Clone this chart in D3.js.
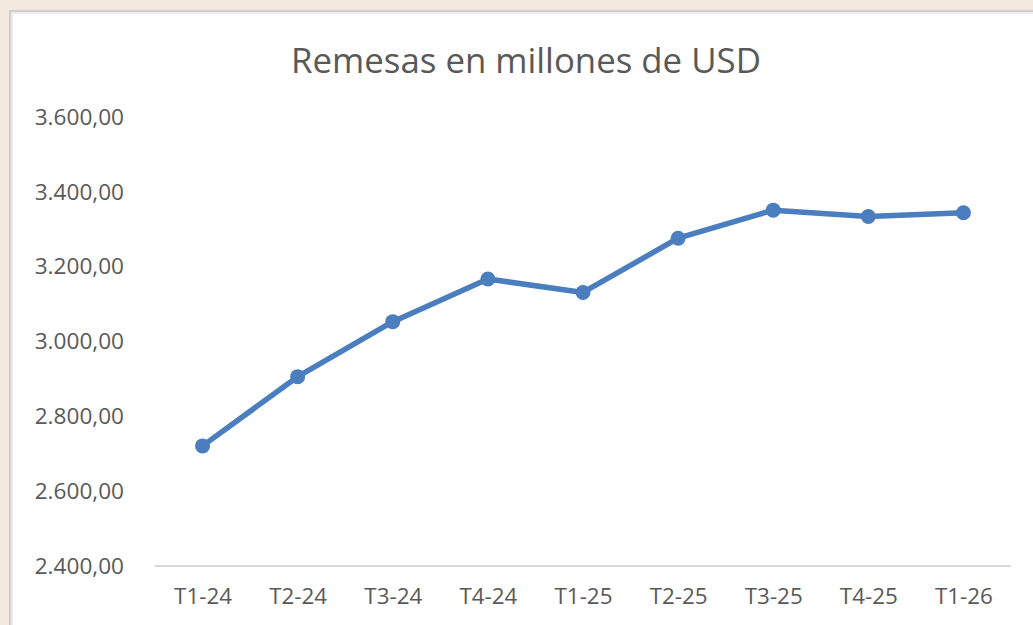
<!DOCTYPE html>
<html lang="es">
<head>
    <meta charset="UTF-8">
    <title>Remesas en millones de USD</title>
    <script src="https://d3js.org/d3.v7.min.js"></script>
    <style>
        html, body { margin: 0; padding: 0; background: #f4e9df; }
        #chart { width: 1033px; height: 625px; }
        text { font-family: "Open Sans", sans-serif; fill: #595959; }
    </style>
</head>
<body>
    <div id="chart"></div>
    <script>
        // datos
        const quarters = ["T1-24", "T2-24", "T3-24", "T4-24", "T1-25", "T2-25", "T3-25", "T4-25", "T1-26"];
        const remesas = [2721, 2906, 3053, 3167, 3131, 3276, 3351, 3334, 3344];
        const yTicks = [2400, 2600, 2800, 3000, 3200, 3400, 3600];

        const width = 1033, height = 625;

        const svg = d3.select("#chart")
            .append("svg")
            .attr("width", width)
            .attr("height", height);

        // panel blanco con borde gris
        svg.append("rect")
            .attr("x", 10).attr("y", 11)
            .attr("width", 1040).attr("height", 640)
            .attr("fill", "#fff")
            .attr("stroke", "#cfcfcf")
            .attr("stroke-width", 2);
        svg.append("rect")
            .attr("x", 12).attr("y", 13)
            .attr("width", 1040).attr("height", 640)
            .attr("fill", "none")
            .attr("stroke", "#ececec")
            .attr("stroke-width", 2);

        svg.append("text")
            .attr("x", 526)
            .attr("y", 73)
            .attr("text-anchor", "middle")
            .style("font-size", "34.8px")
            .text("Remesas en millones de USD");

        const x = d3.scalePoint()
            .domain(quarters)
            .range([155, 1011])
            .padding(0.5);

        const y = d3.scaleLinear()
            .domain([2400, 3600])
            .range([566, 117]);

        const fmt = d3.formatLocale({ decimal: ",", thousands: ".", grouping: [3], currency: ["", ""] }).format(",.2f");

        // eje y (solo etiquetas)
        const yAxis = svg.append("g")
            .attr("transform", "translate(124,0)")
            .call(d3.axisLeft(y).tickValues(yTicks).tickFormat(fmt).tickSize(0).tickPadding(0));
        yAxis.select(".domain").remove();
        yAxis.selectAll("text")
            .attr("text-anchor", "end")
            .style("font-size", "22.6px");

        // eje x
        const xAxis = svg.append("g")
            .attr("transform", "translate(0,566)")
            .call(d3.axisBottom(x).tickSize(0).tickPadding(22));
        xAxis.select(".domain")
            .attr("d", "M155,0H1011")
            .attr("stroke", "#d9d9d9")
            .attr("stroke-width", 2);
        xAxis.selectAll("text")
            .style("font-size", "22.4px");

        const line = d3.line()
            .x((d, i) => x(quarters[i]))
            .y(d => y(d));

        svg.append("path")
            .datum(remesas)
            .attr("d", line)
            .attr("fill", "none")
            .attr("stroke", "#4a7ebf")
            .attr("stroke-width", 5.5)
            .attr("stroke-linejoin", "round");

        svg.selectAll("circle")
            .data(remesas)
            .join("circle")
            .attr("cx", (d, i) => x(quarters[i]))
            .attr("cy", d => y(d))
            .attr("r", 7.5)
            .attr("fill", "#4a7ebf");
    </script>
</body>
</html>
